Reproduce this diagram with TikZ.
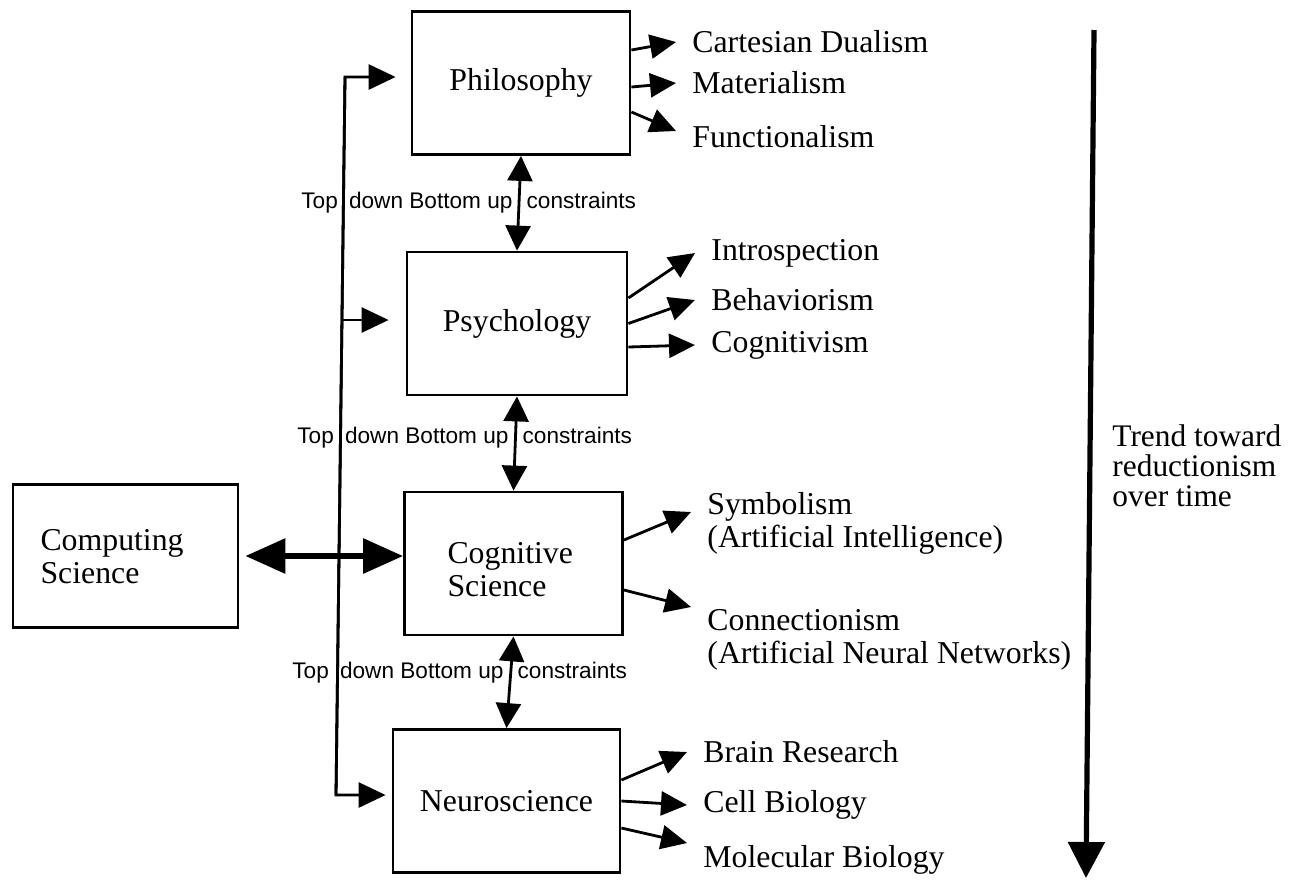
\documentclass[tikz,border=0pt]{standalone}
\usepackage{fontspec}
\setmainfont{Liberation Serif}
\newfontfamily\constrfont{Liberation Sans}
\usetikzlibrary{arrows.meta,positioning}
\tikzset{
  discipline/.style ={draw,line width=1.4pt,minimum width=109pt,minimum height=71.5pt,inner sep=0pt,align=center},
  school/.style     ={anchor=west,inner xsep=8pt,inner ysep=0pt,align=left},
  arrow/.style      ={-{Triangle[length=13pt,width=12pt]},line width=1.4pt},
  feed/.style       ={-{Triangle[length=13.5pt,width=12.5pt]},line width=1.4pt},
  constrain/.style  ={{Triangle[length=12.5pt,width=12.5pt]}-{Triangle[length=12.5pt,width=12.5pt]},line width=1.4pt},
  bigarrow/.style   ={{Triangle[length=20pt,width=17pt]}-{Triangle[length=20pt,width=17pt]},line width=3pt},
  trend/.style      ={-{Triangle[length=18pt,width=18pt]},line width=2.6pt},
  constraint/.style ={font=\constrfont\fontsize{11.3}{13}\selectfont,inner sep=0pt}
}
\newcommand{\tdbu}{Top\hspace{2.5pt} down Bottom up\hspace{4pt} constraints}

\begin{document}
\begin{tikzpicture}[x=0.5pt,y=-0.5pt, every node/.style={font=\fontsize{15.9}{16.5}\selectfont}]
    \useasboundingbox (0,0) rectangle (1294,880);
    % disciplines
    \node[discipline] (phil)  at (521,83)    {Philosophy};
    \node[discipline,minimum width=110pt] (psych) at (517,323.5) {Psychology};
    \node[discipline,text width=66pt,align=left,text height=17pt] (cog) at (513.5,563.5) {Cognitive\\Science};
    \node[discipline,minimum width=113.5pt] (neuro) at (506.5,801) {Neuroscience};
    \node[discipline,minimum width=112.5pt,text width=85pt,align=left,text depth=16pt] (comp) at (125.5,556) {Computing\\Science};
    % schools of thought
    \node[school] (cd)    at (676,42)    {Cartesian Dualism};
    \node[school] (mat)   at (676,83)    {Materialism};
    \node[school] (fun)   at (676,137)   {Functionalism};
    \node[school] (intro) at (695,253)   {Introspection};
    \node[school] (beh)   at (695,300)   {Behaviorism};
    \node[school] (cogn)  at (695,345)   {Cognitivism};
    \node[school] (sym)   at (691,523.5) {Symbolism\\(Artificial Intelligence)};
    \node[school] (con)   at (691,639.5) {Connectionism\\(Artificial Neural Networks)};
    \node[school] (brain) at (687,752)   {Brain Research};
    \node[school] (cell)  at (687,805)   {Cell Biology};
    \node[school] (mol)   at (687,860)   {Molecular Biology};
    \foreach \src/\dy/\dst/\ey in {phil/16.5/cd/0, phil/-2/mat/0, phil/-14.5/fun/3,
        psych/12.75/intro/0, psych/0/beh/0, psych/-11.75/cogn/0,
        cog/11.75/sym/5.75, cog/-13.25/con/16.25,
        neuro/10.5/brain/0, neuro/0/cell/0, neuro/-13.5/mol/8.5}
      \draw[arrow] ([yshift=\dy pt]\src.east) -- ([yshift=\ey pt]\dst.west);
    % constraints between levels
    \draw[constrain] (phil.south) -- (psych.north);
    \draw[constrain] (psych.south) -- (cog.north);
    \draw[constrain] (cog.south) -- (neuro.north);
    \node[constraint] (c1) at (468.7,203) {\tdbu};
    \node[constraint] (c2) at (464.7,438) {\tdbu};
    \node[constraint] (c3) at (459.7,673) {\tdbu};
    % computing science feeds every level
    \coordinate (ftop) at (345,77);
    \coordinate (fmid) at (342,320);
    \coordinate (fbot) at (336,795);
    \draw[feed,shorten >=7.5pt] (fbot) -- (ftop) -- (ftop -| phil.west);
    \draw[feed,shorten >=3pt] (ftop) -- (fbot) -- (fbot -| neuro.west);
    \draw[feed,shorten >=8.5pt] (fmid) -- (fmid -| psych.west);
    \draw[bigarrow,shorten <=3pt] (comp.east) -- (comp.east -| cog.west);
    % trend
    \coordinate (ttop) at (1094,30);
    \coordinate (tbot) at (1086,878);
    \draw[trend] (ttop) -- (tbot);
    \node[anchor=west,align=left,inner sep=0pt,font=\fontsize{15.7}{15}\selectfont] (trendlbl) at (1112,466) {Trend toward\\reductionism\\over time};
  \end{tikzpicture}
\end{document}
